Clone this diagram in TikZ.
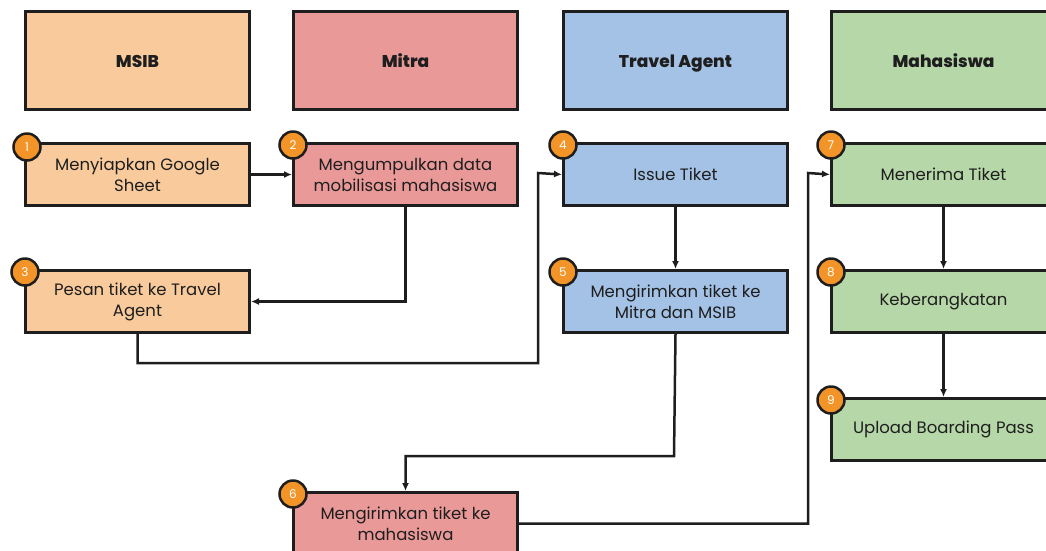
\documentclass[tikz,border=0pt]{standalone}
\usepackage{fontspec}
\setmainfont{Poppins}
\newfontface\hdrface{Poppins ExtraBold}
\usetikzlibrary{arrows.meta,positioning,calc}
\definecolor{cMSIB}{HTML}{F9CB9C}
\definecolor{cMitra}{HTML}{EA9999}
\definecolor{cTravel}{HTML}{A4C2E6}
\definecolor{cMhs}{HTML}{B6D7A8}
\definecolor{cBadge}{HTML}{F29427}
\definecolor{cInk}{HTML}{1E1E1E}
\tikzset{
  x=1pt, y=1pt,
  hdr/.style={draw=cInk, line width=3pt, minimum width=224pt, minimum height=98pt, anchor=north west, inner sep=0pt, text height=15pt, text depth=2pt, font=\fontsize{17}{20}\hdrface, text=cInk},
  stepbox/.style={draw=cInk, line width=3pt, minimum width=224pt, minimum height=62pt, anchor=north west, inner sep=0pt, align=center, font=\fontsize{16.5}{21}\selectfont, text=cInk},
  badge/.style={circle, draw=cInk, line width=2.5pt, fill=cBadge, minimum size=27pt, inner sep=0pt, text=white, font=\fontsize{12}{13}\selectfont},
  arr/.style={draw=cInk, line width=2.5pt, -{Latex[length=8pt,width=7pt]}}
}
\begin{document}
\begin{tikzpicture}
\useasboundingbox (0,0) rectangle (1046,-550);
\clip (0,0) rectangle (1046,-550);
% headers
\node[hdr, fill=cMSIB] (h1) at (24,-10) {MSIB};
\node[hdr, fill=cMitra] (h2) at (292,-10) {Mitra};
\node[hdr, fill=cTravel] (h3) at (562,-10) {Travel Agent};
\node[hdr, fill=cMhs] (h4) at (830,-10) {Mahasiswa};
% steps
\node[stepbox, fill=cMSIB] (s1) at (24,-142) {Menyiapkan Google\\Sheet};
\node[stepbox, fill=cMitra] (s2) at (292,-142) {Mengumpulkan data\\mobilisasi mahasiswa};
\node[stepbox, fill=cMSIB] (s3) at (24,-269) {Pesan tiket ke Travel\\Agent};
\node[stepbox, fill=cTravel] (s4) at (562,-142) {Issue Tiket};
\node[stepbox, fill=cTravel] (s5) at (562,-269) {Mengirimkan tiket ke\\Mitra dan MSIB};
\node[stepbox, fill=cMitra] (s6) at (292,-491) {Mengirimkan tiket ke\\mahasiswa};
\node[stepbox, fill=cMhs] (s7) at (830,-142) {Menerima Tiket};
\node[stepbox, fill=cMhs] (s8) at (830,-269) {Keberangkatan};
\node[stepbox, fill=cMhs] (s9) at (830,-397) {Upload Boarding Pass};
% connector helper points
\coordinate (c34a) at (538,-363);
\coordinate (c34b) at (538,-173);
\coordinate (c56) at (674,-456);
\coordinate (c67) at (808,-173);
% connectors
\draw[arr] (s1.east) -- (s2.west);
\draw[arr] (s2.south) |- (s3.east);
\draw[arr] (s3.south) |- (c34a) -- (c34b) -- (s4.west);
\draw[arr] (s4.south) -- (s5.north);
\draw[arr] (s5.south) -- (c56) -| (s6.north);
\draw[arr] (s6.east) -| (c67) -- (s7.west);
\draw[arr] (s7.south) -- (s8.north);
\draw[arr] (s8.south) -- (s9.north);
% badges
\node[badge] (b1) at ($(s1.north west)+(3,-5)$) {1};
\node[badge] (b2) at ($(s2.north west)+(1,-3)$) {2};
\node[badge] (b3) at ($(s3.north west)+(1,-3)$) {3};
\node[badge] (b4) at ($(s4.north west)+(1,-3)$) {4};
\node[badge] (b5) at ($(s5.north west)+(1,-3)$) {5};
\node[badge] (b6) at ($(s6.north west)+(1,-3)$) {6};
\node[badge] (b7) at ($(s7.north west)+(1,-3)$) {7};
\node[badge] (b8) at ($(s8.north west)+(1,-3)$) {8};
\node[badge] (b9) at ($(s9.north west)+(1,-3)$) {9};
\end{tikzpicture}
\end{document}
